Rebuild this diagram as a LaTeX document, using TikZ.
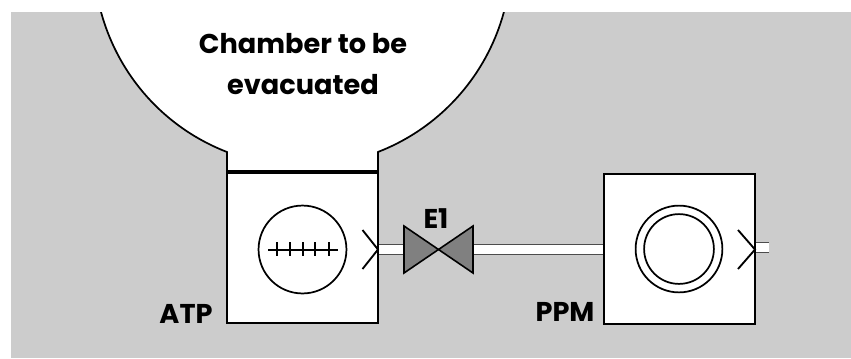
\documentclass[tikz,border=0pt]{standalone}
\usepackage{fontspec}
\setmainfont{Poppins}
\begin{document}
\begin{tikzpicture}[
  x=0.0265cm, y=-0.0265cm,
  every node/.style={font=\fontsize{20.5}{31.5}\selectfont\bfseries},
  unit/.style={draw, line width=1.5pt, fill=white, minimum width=4cm, minimum height=4cm, inner sep=0pt},
  dial/.style={draw, line width=1.3pt, circle, inner sep=0pt},
  port/.style={line width=1.4pt},
  pipe/.style={draw=black!70, line width=0.8pt, double=white, double distance=6.5pt},
  valve/.style={draw, line width=1.2pt, fill=black!50}]

\useasboundingbox (0,0) rectangle (851,358);
\fill[black!20] (11,12) rectangle (851,358);

% vessel
\begin{scope}
\clip (11,12) rectangle (851,358);
\filldraw[fill=white, line width=1.3pt] (227,172) -- (227,152) arc[start angle=111.2, end angle=428.8, radius=208.7] -- (378,172);
\end{scope}

\node[align=center] (chamber) at (303,64) {Chamber to be\\evacuated};

\node[unit] (atp) at (302.5,248) {};
\node[unit] (ppm) at (679.5,249) {};
\coordinate (valvel) at (404,249.5);
\coordinate (valver) at (473,249.5);
\coordinate (outlet) at (769,247.5);

% pipes
\draw[pipe] (atp.east |- valvel) -- (valvel);
\draw[pipe] (valver) -- (ppm.west |- valver);
\draw[pipe] (ppm.east |- outlet) -- (outlet);

\draw[line width=3pt] (atp.north west) -- (atp.north east);

\node[dial, minimum size=2.33cm] (atpdial) at (302.5,249.5) {};
\node[dial, minimum size=2.3cm] (ppmouter) at (679,249) {};
\node[dial, minimum size=1.85cm] (ppminner) at (679,249) {};

\draw[line width=1.5pt] (268,249.5) -- (338,249.5);
\foreach \tx in {277,290,303,315,329}
  \draw[line width=1.5pt] (\tx,242) -- (\tx,256);

\draw[port] (362.5,230) -- (378,249.5) -- (362.5,269);
\draw[port] (738,230) -- (755,249.5) -- (738,269);

% valve
\filldraw[valve] (valvel) ++(0,-23.5) -- ++(0,47) -- ++(69,-47) -- ++(0,47) -- cycle;

\node (e1) at (436,219) {E1};
\node (atplabel) at (186,314) {ATP};
\node (ppmlabel) at (565,312) {PPM};
\end{tikzpicture}
\end{document}
